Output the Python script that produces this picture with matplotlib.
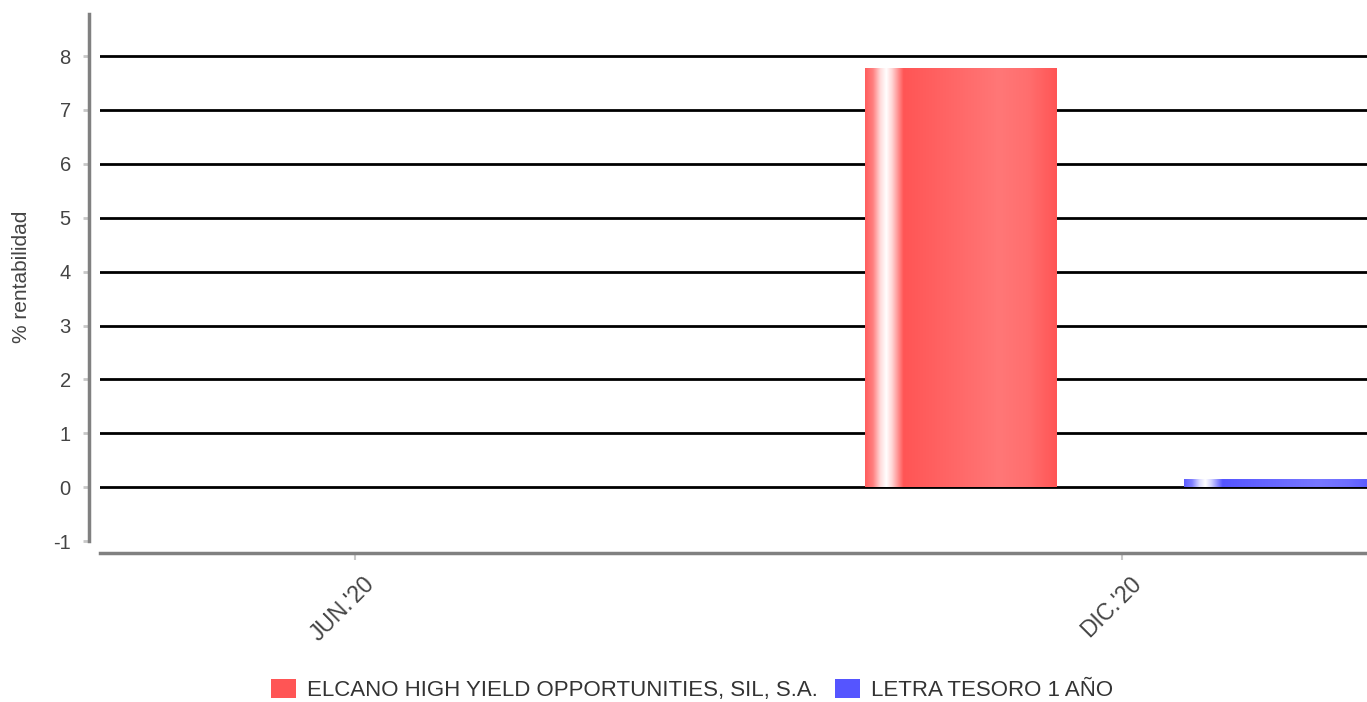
import numpy as np
import matplotlib
matplotlib.use("Agg")
import matplotlib.pyplot as plt
from matplotlib.colors import LinearSegmentedColormap
from matplotlib.patches import Patch
import matplotlib.transforms as mtrans

# ---- data ----
categories = ["JUN.'20", "DIC.'20"]
series_names = ["ELCANO HIGH YIELD OPPORTUNITIES, SIL, S.A.", "LETRA TESORO 1 AÑO"]
series_values = [7.77, 0.15]
series_positions = [0.79, 1.206]   # bar centres on the category axis
series_colors = ["#FF5555", "#5555FF"]
y_ticks = [-1, 0, 1, 2, 3, 4, 5, 6, 7, 8]
y_label = "% rentabilidad"

plt.rcParams['font.family'] = ['Liberation Sans', 'DejaVu Sans']

W, H = 1367, 702
fig = plt.figure(figsize=(W / 100, H / 100), dpi=100)
ax = fig.add_axes([100 / W, 1 - 553 / H, (W - 100) / W, (553 - 14) / H])

XLIM = (-0.332, 1.319)
YLIM = (-1.22, 8.78)

# gridlines
for t in y_ticks:
    if t >= 0:
        ax.axhline(t, color="black", lw=2.0, zorder=1)

bar_w = 0.25


def shade(base):
    import matplotlib.colors as mc
    r, g, b = mc.to_rgb(base)
    light = lambda f: (r + (1 - r) * f, g + (1 - g) * f, b + (1 - b) * f)
    stops = [(0.0, light(0.05)), (0.04, light(0.25)), (0.08, light(0.8)),
             (0.11, light(1.0)), (0.14, light(0.75)), (0.20, light(0.0)),
             (0.70, light(0.2)), (0.85, light(0.15)), (1.0, light(0.0))]
    return LinearSegmentedColormap.from_list("g", stops)


grad = np.linspace(0, 1, 256).reshape(1, -1)
for pos, val, col in zip(series_positions, series_values, series_colors):
    bars = ax.bar(pos, val, width=bar_w, color=col, zorder=2, linewidth=0)
    p = bars[0]
    x0 = pos - bar_w / 2
    im = ax.imshow(grad, cmap=shade(col), aspect="auto",
                   extent=(x0, x0 + bar_w, 0, val), zorder=3,
                   interpolation="bilinear")
    im.set_clip_path(p)

ax.set_xlim(*XLIM)
ax.set_ylim(*YLIM)

ax.set_yticks(y_ticks)
ax.set_yticklabels([str(t) for t in y_ticks])
ax.set_xticks(range(len(categories)))
ax.set_xticklabels([])

trans = mtrans.blended_transform_factory(ax.transData, ax.transAxes)
off = mtrans.ScaledTranslation(8 / 100, -19 / 100, fig.dpi_scale_trans)
for i, c in enumerate(categories):
    ax.text(i, 0, c, transform=trans + off, rotation=45, ha="right", va="top",
            rotation_mode="anchor", fontsize=16.5, color="#444444")

for s in ["top", "right"]:
    ax.spines[s].set_visible(False)
ax.spines["left"].set_position(("outward", 8))
ax.spines["left"].set_bounds(-1, 8.78)
ax.spines["left"].set_color("#808080")
ax.spines["left"].set_linewidth(2.5)
ax.spines["bottom"].set_color("#808080")
ax.spines["bottom"].set_linewidth(2.5)

ax.tick_params(axis="y", length=4.5, width=2, color="#C8C8C8", pad=8.5,
               labelsize=14.5, labelcolor="#444444")
ax.tick_params(axis="x", length=5, width=1.5, color="#C8C8C8", direction="out")

fig.text(22 / W, 1 - 277 / H, y_label, rotation=90, ha="center", va="center",
         fontsize=15, color="#444444")

handles = [Patch(facecolor=c, edgecolor="none") for c in series_colors]
fig.legend(handles, series_names, loc="center", bbox_to_anchor=(692 / W, 1 - 690 / H),
           ncol=2, frameon=False, fontsize=16, handlelength=1.1, handleheight=0.9,
           handletextpad=0.5, columnspacing=0.8, labelcolor="#333333")

fig.savefig("out.png", dpi=100)
